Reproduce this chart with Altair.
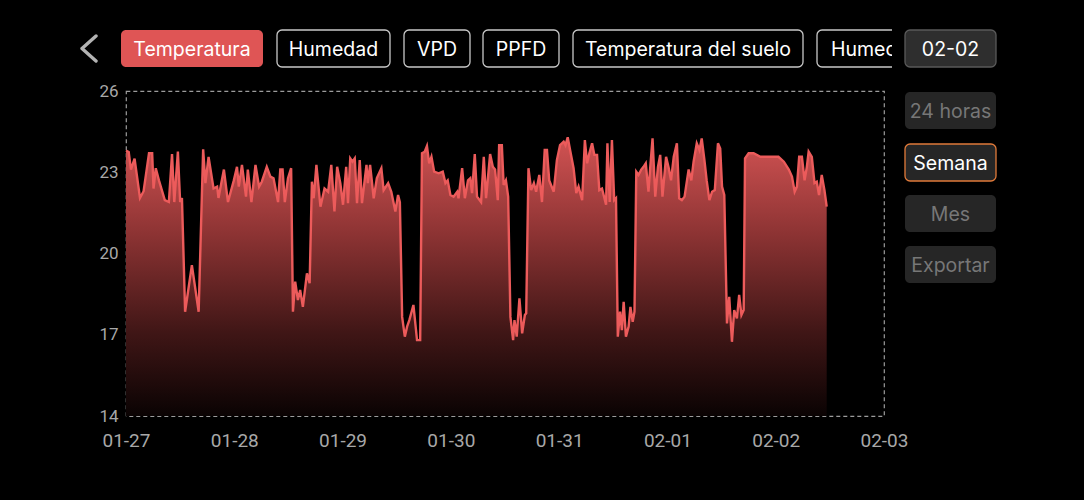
import altair as alt
import pandas as pd

# Temperature readings, hours since 01-27 00:00 and degrees C
hours = [
    0.0, 0.6, 1.1, 1.9, 3.1, 3.9, 5.1, 5.8, 6.1, 6.6, 7.3, 8.6, 9.5, 10.2, 10.7, 11.5,
    12.0, 12.4, 13.1, 14.6, 16.1, 17.1, 17.6, 18.3, 19.4, 20.2, 20.5, 21.7, 22.6, 23.9,
    24.6, 25.0, 25.7, 26.6, 27.0, 27.8, 28.7, 29.5, 30.1, 31.2, 32.0, 32.7, 33.7, 34.2,
    34.7, 35.2, 35.9, 36.6, 37.0, 37.5, 38.1, 38.6, 39.2, 40.1, 40.7, 41.2, 41.6, 42.2,
    43.1, 44.0, 44.8, 45.5, 46.2, 46.8, 47.5, 48.1, 48.8, 49.2, 49.7, 50.2, 50.7, 51.2,
    51.8, 52.3, 53.3, 53.6, 54.1, 54.9, 55.6, 56.6, 57.1, 58.1, 58.8, 59.7, 60.3, 60.7,
    61.2, 61.8, 62.3, 62.8, 63.7, 64.5, 65.2, 65.6, 66.2, 66.7, 67.2, 67.7, 68.3, 69.3,
    70.2, 70.8, 71.3, 71.9, 72.6, 73.4, 73.7, 74.5, 75.1, 75.8, 76.3, 76.7, 77.3, 77.8,
    78.7, 79.3, 79.8, 80.7, 81.3, 81.8, 82.4, 82.7, 83.3, 83.7, 84.2, 84.7, 85.2, 85.8,
    86.1, 86.6, 87.2, 87.8, 88.4, 88.7, 89.2, 89.8, 90.4, 90.9, 91.6, 92.2, 92.8, 93.3,
    93.8, 94.8, 95.5, 96.2, 97.0, 97.4, 97.9, 98.5, 99.2, 99.8, 100.3, 101.1, 101.7, 102.2,
    102.7, 103.3, 103.8, 104.4, 104.9, 105.5, 106.4, 106.7, 107.2, 107.7, 108.2, 108.6, 109.0, 109.5,
    109.9, 110.3, 110.8, 111.4, 111.8, 112.3, 112.7, 113.1, 113.6, 114.2, 114.7, 115.2, 115.8, 116.2,
    116.7, 117.3, 117.9, 118.4, 118.9, 119.7, 120.3, 120.8, 121.4, 122.1, 122.6, 123.2, 123.8, 124.7,
    125.3, 125.8, 126.5, 127.1, 127.6, 128.2, 128.7, 129.3, 129.9, 130.5, 131.2, 131.7, 132.1, 132.6,
    133.2, 133.7, 134.3, 134.8, 135.4, 135.9, 136.4, 136.9, 137.2, 138.0, 139.1, 140.6, 143.2, 144.6,
    145.8, 146.9, 147.6, 148.2, 148.7, 149.2, 149.8, 150.4, 150.9, 151.3, 152.0, 152.6, 153.1, 153.6,
    154.2, 154.8, 155.3,
]
temps = [
    23.8, 23.75, 23.1, 23.5, 22.05, 22.3, 23.7, 23.7, 22.4, 23.15, 22.7, 21.97, 21.9, 23.67, 21.9, 23.76,
    21.9, 22.05, 17.85, 19.57, 17.85, 23.85, 22.6, 23.57, 22.4, 22.47, 22.05, 23.1, 21.9, 22.7,
    23.2, 22.47, 23.27, 22.1, 23.1, 21.9, 23.27, 22.47, 22.65, 23.2, 22.84, 22.78, 21.9, 23.1,
    23.1, 21.9, 22.78, 23.15, 17.85, 18.96, 18.28, 18.65, 18.03, 19.27, 18.9, 22.65, 22.04, 23.27,
    21.73, 22.4, 22.28, 23.27, 21.55, 23.2, 22.6, 21.8, 23.2, 21.86, 23.51, 23.39, 23.51, 21.86,
    23.45, 21.86, 23.27, 22.6, 23.27, 22.04, 22.78, 23.15, 22.34, 22.6, 22.28, 21.55, 22.16, 21.9,
    17.66, 16.93, 17.3, 17.54, 18.1, 16.8, 16.8, 23.7, 23.76, 23.97, 23.33, 23.57, 23.02, 22.96,
    23.02, 22.6, 22.7, 22.16, 22.1, 22.28, 22.04, 23.15, 22.04, 22.7, 22.78, 22.23, 23.67, 22.1,
    21.9, 23.57, 22.04, 23.67, 23.2, 23.1, 21.97, 24.0, 24.0, 22.53, 22.7, 22.1, 17.66, 16.8,
    17.54, 16.93, 18.34, 17.05, 17.73, 17.79, 23.15, 22.34, 22.6, 22.28, 22.9, 21.9, 23.82, 23.82,
    22.7, 22.28, 23.45, 24.0, 24.13, 24.0, 24.29, 23.76, 23.15, 22.23, 22.47, 21.97, 24.19, 23.33,
    23.7, 24.07, 23.64, 23.64, 22.34, 22.4, 21.8, 24.07, 21.9, 24.19, 21.97, 22.04, 16.93, 17.85,
    17.17, 18.22, 16.93, 17.3, 18.03, 17.48, 17.85, 23.02, 22.9, 23.1, 23.2, 23.33, 22.28, 23.2,
    24.25, 22.1, 23.2, 23.64, 22.1, 23.57, 23.15, 22.7, 23.57, 24.07, 22.04, 21.97, 22.1, 23.1,
    22.7, 23.39, 24.07, 23.82, 24.25, 23.45, 22.7, 21.97, 22.28, 22.34, 24.07, 23.88, 22.47, 22.16,
    17.42, 18.4, 16.74, 17.91, 17.6, 18.47, 17.73, 17.91, 23.51, 23.7, 23.7, 23.57, 23.57, 23.57,
    23.39, 23.1, 22.84, 22.28, 22.47, 23.57, 23.57, 22.7, 23.2, 23.76, 23.57, 22.6, 22.65, 22.16,
    22.9, 22.34, 21.73,
]

y_ticks = [14, 17, 20, 23, 26]
metric_tabs = ["Temperatura", "Humedad", "VPD", "PPFD", "Temperatura del suelo", "Humec"]
range_tabs = ["24 horas", "Semana", "Mes", "Exportar"]
selected_day = "02-02"

start = pd.Timestamp("2025-01-27")
df = pd.DataFrame({
    "time": [(start + pd.Timedelta(hours=h)).strftime("%Y-%m-%dT%H:%M:%S") for h in hours],
    "temp": temps,
})

# page frame: plot area origin inside the 1084x500 canvas
OX, OY = 126, 91
W, H = 758, 325
FONT = "Inter"
BTN_SIZE = 19.5

x_enc = alt.X(
    "time:T",
    scale=alt.Scale(domain=[alt.DateTime(year=2025, month=1, date=27),
                            alt.DateTime(year=2025, month=2, date=3)], nice=False),
    axis=alt.Axis(format="%m-%d", tickCount={"interval": "day", "step": 1},
                  labelFlush=False, labelOverlap=False, labelBound=False,
                  ticks=False, domain=False, grid=False, labelPadding=15,
                  labelFontSize=19, labelColor="#a8a8a8", labelFont="Roboto", title=None),
)
y_enc = alt.Y(
    "temp:Q",
    scale=alt.Scale(domain=[14, 26], nice=False, zero=False),
    axis=alt.Axis(values=y_ticks, ticks=False, domain=False, grid=False, labelPadding=8,
                  labelFontSize=17, labelColor="#a8a8a8", labelFont="Roboto", title=None),
)

base = alt.Chart(df)
area = base.mark_area(
    color=alt.Gradient(
        gradient="linear",
        stops=[alt.GradientStop(color="#d25353", offset=0),
               alt.GradientStop(color="#8c3333", offset=0.35),
               alt.GradientStop(color="#401616", offset=0.7),
               alt.GradientStop(color="#0a0303", offset=1)],
        x1=1, x2=1, y1=0, y2=1,
    ),
).encode(x=x_enc, y=y_enc, y2=alt.datum(14))
line = base.mark_line(color="#ec5b5b", strokeWidth=2.4).encode(x=x_enc, y=y_enc)


def button(label, x0, x1, y0, y1, fill, text_color, stroke=None, radius=5, size=BTN_SIZE,
           text_x=None, align="center"):
    one = alt.Data(values=[{"label": label}])
    rect_kw = dict(fill=fill, cornerRadius=radius)
    if stroke:
        rect_kw.update(stroke=stroke, strokeWidth=1.3)
    box = alt.Chart(one).mark_rect(**rect_kw).encode(
        x=alt.value(x0 - OX), x2=alt.value(x1 - OX),
        y=alt.value(y0 - OY), y2=alt.value(y1 - OY),
    )
    tx = (x0 + x1) / 2 if text_x is None else text_x
    txt = alt.Chart(one).mark_text(
        font=FONT, fontSize=size, color=text_color, align=align, baseline="middle",
    ).encode(x=alt.value(tx - OX), y=alt.value((y0 + y1) / 2 + 1 - OY), text="label:N")
    return [box, txt]


layers = [area, line]

# metric tabs along the top
top_y0, top_y1 = 30, 67
layers += button(metric_tabs[0], 121, 263, top_y0, top_y1, "#df5555", "#ffffff")
layers += button(metric_tabs[1], 277, 390, top_y0, top_y1, "#000000", "#ffffff", stroke="#c8c8c8")
layers += button(metric_tabs[2], 404, 470, top_y0, top_y1, "#000000", "#ffffff", stroke="#c8c8c8")
layers += button(metric_tabs[3], 483, 559, top_y0, top_y1, "#000000", "#ffffff", stroke="#c8c8c8")
layers += button(metric_tabs[4], 573, 803, top_y0, top_y1, "#000000", "#ffffff", stroke="#c8c8c8")
layers += button(metric_tabs[5], 817, 905, top_y0, top_y1, "#000000", "#ffffff", stroke="#c8c8c8",
                 text_x=831, align="left")
# the tab strip is cut off before the date picker
layers.append(
    alt.Chart(alt.Data(values=[{}])).mark_rect(fill="#000000").encode(
        x=alt.value(892 - OX), x2=alt.value(906 - OX),
        y=alt.value(top_y0 - 2 - OY), y2=alt.value(top_y1 + 2 - OY))
)
layers += button(selected_day, 905, 996, top_y0, top_y1, "#2e2e2e", "#ffffff", stroke="#5a5a5a")

# range selector on the right
for label, (y0, y1) in zip(range_tabs, [(92, 129), (144, 181), (195, 232), (246, 283)]):
    active = label == "Semana"
    layers += button(label, 905, 996, y0, y1, "#262626",
                     "#ffffff" if active else "#777777",
                     stroke="#e07a3a" if active else None)

# back chevron
layers.append(
    alt.Chart(alt.Data(values=[{}])).mark_point(
        shape="M0.56,-1L-0.56,0L0.56,1", filled=False, stroke="#ffffff", strokeWidth=3.4,
        size=625, strokeCap="round", strokeJoin="round",
    ).encode(x=alt.value(89 - OX), y=alt.value(48.5 - OY))
)

chart = alt.layer(*layers).properties(
    width=W, height=H,
    background="#000000",
    autosize=alt.AutoSizeParams(type="none"),
    padding={"left": OX, "top": OY, "right": 1084 - OX - W, "bottom": 500 - OY - H},
).configure_view(
    stroke="#9c9c9c", strokeDash=[4, 3], strokeWidth=1.2,
)

chart.save("out.html", embed_options={"renderer": "svg", "actions": False})
